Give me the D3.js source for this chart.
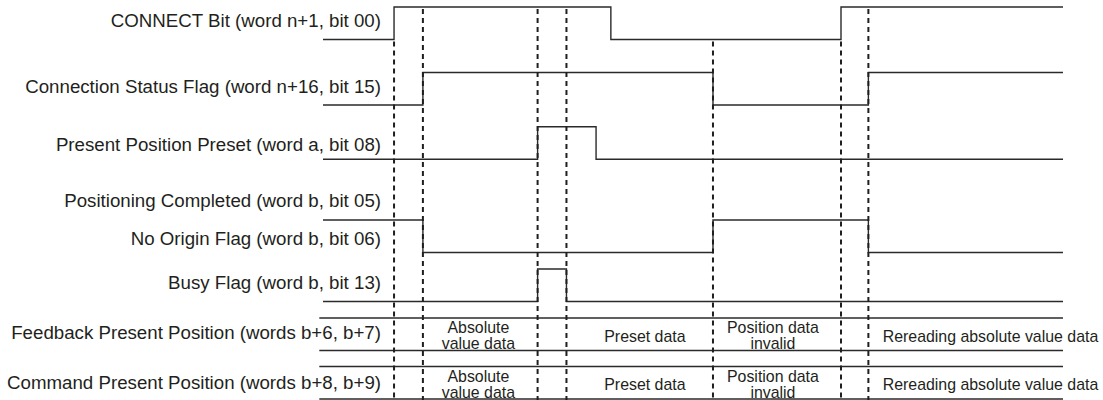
<!DOCTYPE html>
<html>
<head>
<meta charset="utf-8">
<script src="https://cdn.jsdelivr.net/npm/d3@7"></script>
<style>
  html, body { margin: 0; padding: 0; background: #fff; }
  svg { display: block; }
  text { font-family: "Liberation Sans", Arial, Helvetica, sans-serif; fill: #231f20; }
</style>
</head>
<body>
<svg id="chart" width="1103" height="400"></svg>
<script>
// ---------- DATA (time in arbitrary units, 0..100) ----------
const signalLabels = [
  "CONNECT Bit (word n+1, bit 00)",
  "Connection Status Flag (word n+16, bit 15)",
  "Present Position Preset (word a, bit 08)",
  "Positioning Completed (word b, bit 05)",
  "No Origin Flag (word b, bit 06)",
  "Busy Flag (word b, bit 13)",
  "Feedback Present Position (words b+6, b+7)",
  "Command Present Position (words b+8, b+9)"
];

// step signals: transition times and level after each time
const connectT      = [0, 9.6, 38.9, 70.0, 100];
const connectV      = [0, 1,   0,    1,    1];
const connStatusT   = [0, 13.5, 52.7, 73.7, 100];
const connStatusV   = [0, 1,    0,    1,    1];
const presetT       = [0, 29.0, 36.9, 100];
const presetV       = [0, 1,    0,    0];
const noOriginT     = [0, 13.5, 52.7, 73.7, 100];
const noOriginV     = [1, 0,    1,    0,    0];
const busyT         = [0, 29.0, 32.9, 100];
const busyV         = [0, 1,    0,    0];

// event times (dashed guide lines)
const eventTimes = [9.6, 13.5, 29.0, 32.9, 52.7, 70.0, 73.7];

// data-row contents: text and centre time
const dataTexts   = [["Absolute", "value data"], ["Preset data"], ["Position data", "invalid"], ["Rereading absolute value data"]];
const dataTextT   = [21.0, 43.5, 60.8, 90.2];

// ---------- LAYOUT ----------
const svg = d3.select("#chart");
const x = d3.scaleLinear().domain([0, 100]).range([323, 1063]);
const AMP = 32.5;
const labelX = 381;

const rows = [
  { hi: 7,     t: connectT,    v: connectV,    label: 26.7 },
  { hi: 72.5,  t: connStatusT, v: connStatusV, label: 92.7 },
  { hi: 126.7, t: presetT,     v: presetV,     label: 150.5 },
  { hi: null,  label: 206.7 },
  { hi: 220,   t: noOriginT,   v: noOriginV,   label: 245 },
  { hi: 269,   t: busyT,       v: busyV,       label: 289.3 }
];
const dataRows = [
  { top: 318,   label: 339 },
  { top: 366.5, label: 389.3 }
];

const ink = "#2a2a2a";

// labels
const labelBaselines = rows.map(r => r.label).concat(dataRows.map(r => r.label));
svg.append("g").selectAll("text")
  .data(signalLabels)
  .join("text")
  .attr("x", labelX)
  .attr("y", (d, i) => labelBaselines[i])
  .attr("text-anchor", "end")
  .attr("font-size", "18.7px")
  .text(d => d);

// signal waveforms
const sigG = svg.append("g");
rows.filter(r => r.hi !== null).forEach(r => {
  const y = d3.scaleLinear().domain([0, 1]).range([r.hi + AMP, r.hi]);
  const line = d3.line()
    .x(d => x(d[0]))
    .y(d => y(d[1]))
    .curve(d3.curveStepAfter);
  sigG.append("path")
    .datum(r.t.map((tt, i) => [tt, r.v[i]]))
    .attr("d", line)
    .attr("fill", "none")
    .attr("stroke", ink)
    .attr("stroke-width", 1.4);
});

// data rows (bus-style)
const busG = svg.append("g");
dataRows.forEach(r => {
  [r.top, r.top + AMP].forEach(yy => {
    busG.append("line")
      .attr("x1", x(-0.5)).attr("x2", x(100))
      .attr("y1", yy).attr("y2", yy)
      .attr("stroke", ink).attr("stroke-width", 1.4);
  });
  dataTexts.forEach((lines, i) => {
    const t = busG.append("text")
      .attr("text-anchor", "middle")
      .attr("font-size", "15.9px");
    if (lines.length === 1) {
      t.append("tspan").attr("x", x(dataTextT[i])).attr("y", r.top + 23.7).text(lines[0]);
    } else {
      t.append("tspan").attr("x", x(dataTextT[i])).attr("y", r.top + 15.3).text(lines[0]);
      t.append("tspan").attr("x", x(dataTextT[i])).attr("y", r.top + 31).text(lines[1]);
    }
  });
});

// dashed event guides
const connY = d3.scaleLinear().domain([0, 1]).range([rows[0].hi + AMP, rows[0].hi]);
function levelBefore(ts, vs, t) {
  let lv = vs[0];
  for (let i = 0; i < ts.length; i++) { if (ts[i] < t) lv = vs[i]; }
  return lv;
}
svg.append("g").selectAll("line")
  .data(eventTimes)
  .join("line")
  .attr("x1", d => x(d)).attr("x2", d => x(d))
  .attr("y1", d => connY(levelBefore(connectT, connectV, d)) + 2)
  .attr("y2", 400)
  .attr("stroke", "#1f1f1f")
  .attr("stroke-width", 2)
  .attr("stroke-dasharray", "5,4");
</script>
</body>
</html>
